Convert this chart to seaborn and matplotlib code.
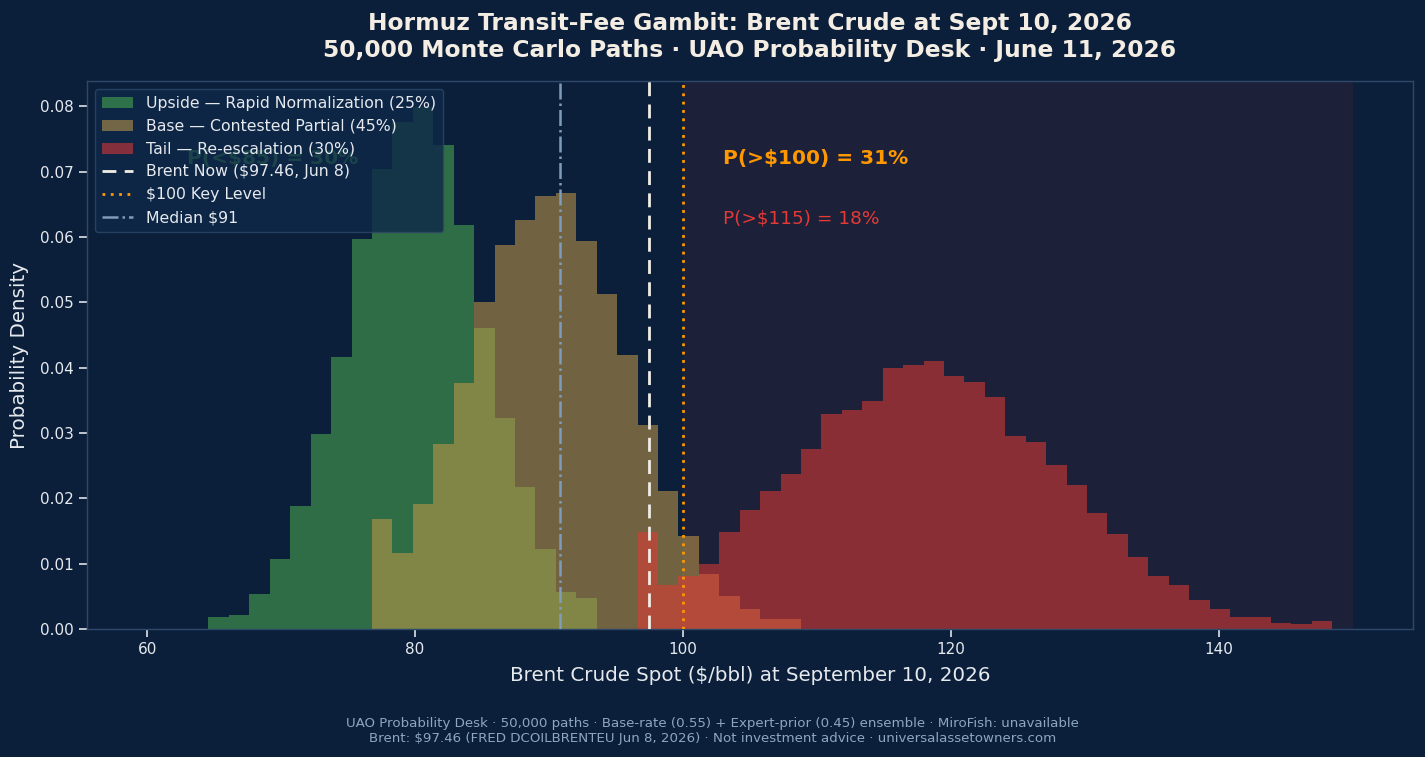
import numpy as np
import pandas as pd
import matplotlib
matplotlib.use("Agg")
import matplotlib.pyplot as plt
import seaborn as sns
from matplotlib.patches import Patch
from matplotlib.lines import Line2D

# ---------------- data ----------------
BIN_LO, BIN_HI, N_BINS = 60.0, 150.0, 59

upside_start = 3
upside_density = [0.0018, 0.0022, 0.0054, 0.0108, 0.0189, 0.0298, 0.0416, 0.0597,
                  0.0704, 0.0776, 0.0799, 0.0741, 0.0618, 0.0461, 0.0323, 0.0217,
                  0.0122, 0.0057, 0.0048]

base_start = 11
base_density = [0.0168, 0.0116, 0.0191, 0.0284, 0.0376, 0.0501, 0.0588, 0.0626,
                0.0663, 0.0667, 0.0594, 0.0513, 0.0419, 0.0312, 0.0212, 0.0142,
                0.0084, 0.0051, 0.0031, 0.0015, 0.0015]

tail_start = 24
tail_density = [0.0148, 0.0067, 0.0082, 0.0100, 0.0148, 0.0182, 0.0211, 0.0238,
                0.0275, 0.0329, 0.0335, 0.0349, 0.0399, 0.0405, 0.0410, 0.0387,
                0.0378, 0.0355, 0.0295, 0.0286, 0.0251, 0.0220, 0.0177, 0.0145,
                0.0110, 0.0082, 0.0068, 0.0044, 0.0031, 0.0019, 0.0019, 0.0010,
                0.0007, 0.0013]

series_labels = ["Upside — Rapid Normalization (25%)",
                 "Base — Contested Partial (45%)",
                 "Tail — Re-escalation (30%)"]

brent_now = 97.46
key_level = 100.0
median_price = 90.8
shade_range = (100.0, 150.0)

prob_texts = ["P(<$85) = 30%", "P(>$100) = 31%", "P(>$115) = 18%"]

title = ("Hormuz Transit-Fee Gambit: Brent Crude at Sept 10, 2026\n"
         "50,000 Monte Carlo Paths · UAO Probability Desk · June 11, 2026")
footer = ("UAO Probability Desk · 50,000 paths · Base-rate (0.55) + Expert-prior (0.45) "
          "ensemble · MiroFish: unavailable\n"
          "Brent: $97.46 (FRED DCOILBRENTEU Jun 8, 2026) · Not investment advice · "
          "universalassetowners.com")

# ---------------- style ----------------
BG = "#0b1f3a"
GREEN = "#4caf50"
GOLD = "#c69b48"
RED = "#e53935"
ORANGE = "#ff9800"
TXT = "#e6e9ee"

sns.set_theme(style="dark")
plt.rcParams["font.family"] = ["DejaVu Sans"]

fig = plt.figure(figsize=(14.25, 7.57), dpi=100, facecolor=BG)
ax = fig.add_axes([0.061, 0.169, 0.9305, 0.724])
ax.set_facecolor(BG)

edges = np.linspace(BIN_LO, BIN_HI, N_BINS + 1)
width = edges[1] - edges[0]

ax.axvspan(*shade_range, color=RED, alpha=0.08, lw=0, zorder=0)

for start, vals, col in [(upside_start, upside_density, GREEN),
                         (base_start, base_density, GOLD),
                         (tail_start, tail_density, RED)]:
    df = pd.DataFrame({"price": edges[start:start + len(vals)] + width / 2,
                       "density": np.asarray(vals, dtype=float)})
    sns.histplot(data=df, x="price", weights="density", bins=N_BINS,
                 binrange=(BIN_LO, BIN_HI), stat="count",
                 color=col, alpha=0.55, edgecolor="none", linewidth=0, ax=ax)

ax.axvline(brent_now, color="#f0ede6", ls=(0, (5, 3)), lw=2, zorder=5)
ax.axvline(key_level, color=ORANGE, ls=(0, (1, 2)), lw=2, zorder=5)
ax.axvline(median_price, color="#7f9cba", ls="-.", lw=1.8, zorder=5)

ax.text(63, 0.072, prob_texts[0], color=GREEN, fontsize=14.5,
        fontweight="bold", va="center", ha="left", zorder=3)
ax.text(103, 0.072, prob_texts[1], color=ORANGE, fontsize=14.5,
        fontweight="bold", va="center", ha="left", zorder=6)
ax.text(103, 0.0628, prob_texts[2], color=RED, fontsize=13.3,
        va="center", ha="left", zorder=6)

ax.set_xlim(55.5, 154.5)
ax.set_ylim(0, 0.0839)
ax.set_xticks([60, 80, 100, 120, 140])
ax.set_yticks(np.arange(0, 0.081, 0.01))
ax.yaxis.set_major_formatter(matplotlib.ticker.FormatStrFormatter("%.2f"))
ax.tick_params(colors=TXT, labelsize=11, length=6, width=1.2, direction="out",
               bottom=True, left=True, color="#dfe3ea")
for s in ax.spines.values():
    s.set_color("#2f4868")
    s.set_linewidth(1)
ax.grid(False)

ax.set_xlabel("Brent Crude Spot ($/bbl) at September 10, 2026", color=TXT,
              fontsize=14.3, labelpad=6)
ax.set_ylabel("Probability Density", color=TXT, fontsize=14.3, labelpad=8)
ax.set_title(title, color="#f3ede4", fontsize=16.8, fontweight="bold", pad=17,
             linespacing=1.22)

handles = [Patch(facecolor=GREEN, alpha=0.55, edgecolor="none"),
           Patch(facecolor=GOLD, alpha=0.55, edgecolor="none"),
           Patch(facecolor=RED, alpha=0.55, edgecolor="none"),
           Line2D([], [], color="#f0ede6", ls=(0, (5, 3)), lw=2),
           Line2D([], [], color=ORANGE, ls=(0, (1, 2)), lw=2),
           Line2D([], [], color="#7f9cba", ls="-.", lw=1.8)]
labels = series_labels + [f"Brent Now (${brent_now:.2f}, Jun 8)", "$100 Key Level",
                          f"Median ${median_price:.0f}"]
leg = ax.legend(handles, labels, loc="upper left", fontsize=11.3,
                facecolor="#0e2849", edgecolor="#2f4868", framealpha=0.8,
                labelcolor=TXT, borderpad=0.45, labelspacing=0.5)
leg.set_zorder(10)

fig.text(0.5, 0.0343, footer, color="#8ea6c2", fontsize=9.6, ha="center",
         va="center", linespacing=1.21)

fig.savefig("out.png", dpi=100, facecolor=BG)
